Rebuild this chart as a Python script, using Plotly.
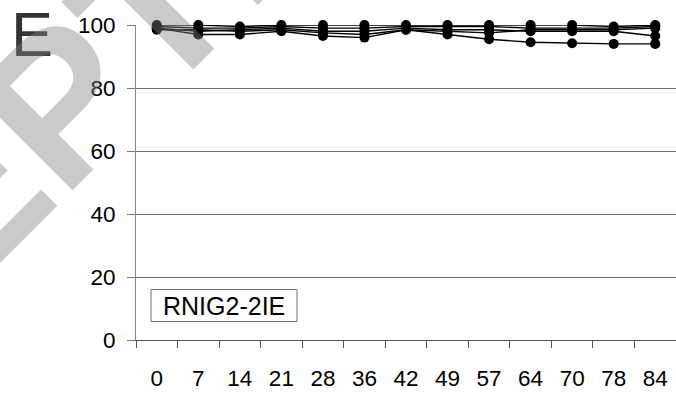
import plotly.graph_objects as go

# Sampling days (category axis) and viability (%) for each replicate
days = ["0", "7", "14", "21", "28", "36", "42", "49", "57", "64", "70", "78", "84"]
rep1 = [100, 100, 99.5, 100, 100, 100, 100, 100, 100, 100, 100, 99.5, 100]
rep2 = [99.5, 99, 99, 99.5, 99, 99, 99.5, 99.5, 99.5, 99, 99, 99, 99.5]
rep3 = [99, 98, 98.5, 99, 98, 98, 99, 98.5, 98.5, 98, 98, 98, 96.5]
rep4 = [99, 97, 97, 98, 96.5, 96, 98.5, 97, 95.5, 94.5, 94.2, 94, 94]
rep5 = [98.5, 98.5, 98, 98.5, 97.5, 97, 98.5, 98, 97.5, 98.5, 98.5, 98.5, 99]
y_ticks = [0, 20, 40, 60, 80, 100]
strain_label = "RNIG2-2IE"
panel_label = "E"
stamp_text = "ACCEPTED"

FONT = "Liberation Sans, Arial, sans-serif"
W, H = 676, 393
L, R, T, B = 136, 0, 25, 53
PW, PH = W - L - R, H - T - B


def px_x(p):
    return (p - L) / PW


def px_y(p):
    return (H - B - p) / PH


fig = go.Figure()
for reps in (rep1, rep2, rep3, rep4, rep5):
    fig.add_trace(go.Scatter(
        x=days, y=reps, mode="lines+markers",
        line=dict(color="black", width=1.4),
        marker=dict(color="black", size=10, symbol="circle"),
        cliponaxis=False, showlegend=False,
    ))

fig.update_layout(
    width=W, height=H,
    margin=dict(l=L, r=R, t=T, b=B),
    paper_bgcolor="white", plot_bgcolor="white",
    font=dict(family=FONT, size=22, color="black"),
    xaxis=dict(
        type="category", range=[-0.5, len(days) - 0.5],
        tickson="boundaries", ticks="outside", ticklen=7, tickwidth=1,
        tickcolor="#555", showline=True, linecolor="#555", linewidth=1,
        showgrid=False, zeroline=False, ticklabelstandoff=18,
        tickfont=dict(family=FONT, size=22.5, color="black"),
    ),
    yaxis=dict(
        range=[0, 100], tickvals=y_ticks, ticks="outside", ticklen=8,
        tickwidth=1, tickcolor="#777", showline=True, linecolor="#888",
        linewidth=1, showgrid=True, gridcolor="#707070", gridwidth=1,
        zeroline=False, ticklabelstandoff=7,
        tickfont=dict(family=FONT, size=22.5, color="black"),
    ),
)

# Strain label box
fig.add_shape(type="rect", xref="paper", yref="paper",
              x0=px_x(151), x1=px_x(297), y0=px_y(321.5), y1=px_y(289.5),
              line=dict(color="#707070", width=1), fillcolor="white", layer="above")
fig.add_annotation(xref="paper", yref="paper", x=px_x(224), y=px_y(305.5),
                   text=strain_label, showarrow=False, xanchor="center", yanchor="middle",
                   font=dict(family=FONT, size=25, color="black"))

# Panel letter
fig.add_annotation(xref="paper", yref="paper", x=px_x(9), y=px_y(34),
                   text=panel_label, showarrow=False, xanchor="left", yanchor="middle",
                   font=dict(family=FONT, size=63, color="#333333"))

# Diagonal stamp across the upper left
fig.add_annotation(xref="paper", yref="paper", x=px_x(0), y=px_y(161),
                   text="<b>" + stamp_text + "</b>", showarrow=False,
                   xanchor="center", yanchor="middle", textangle=-45,
                   font=dict(family=FONT, size=205, color="rgba(128,128,128,0.42)"))

fig.write_html("out.html")
